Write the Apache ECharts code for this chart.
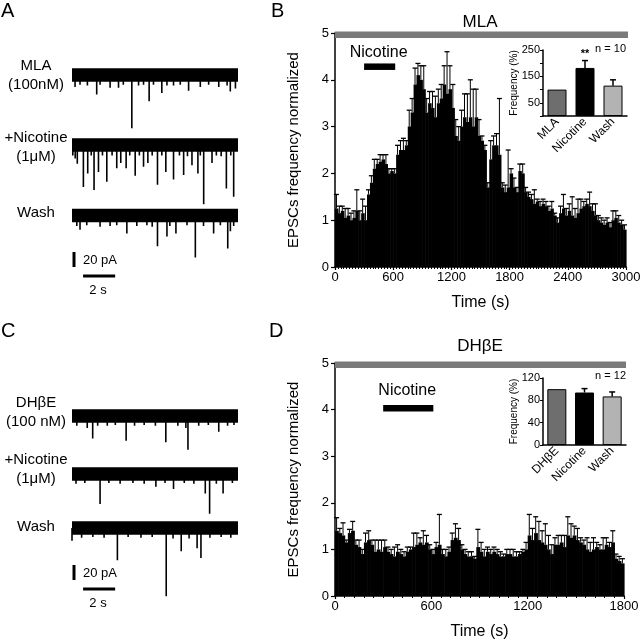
<!DOCTYPE html>
<html><head><meta charset="utf-8">
<script src="https://cdn.jsdelivr.net/npm/echarts@6/dist/echarts.min.js"></script>
<style>html,body{margin:0;padding:0;background:#fff}#c{width:640px;height:640px}</style>
</head><body><div id="c"></div>
<script>
const FAM = '"Liberation Sans", Arial, sans-serif';

// ---------- Panel B (MLA) : normalized EPSC frequency, 30 s bins ----------
const binWidthB = 30;
const freqB = [1.25,1.15,1.2,1.05,1.1,1.0,1.05,1.2,1.0,1.15,
 1.0,1.55,1.8,2.1,2.2,2.25,2.3,2.2,2.0,2.05,
 2.0,2.4,2.5,2.5,2.6,3.0,3.3,3.9,4.1,4.0,
 3.8,3.3,3.5,3.4,3.2,3.5,3.6,3.9,3.7,3.8,
 3.4,2.8,2.7,3.0,3.2,3.1,3.2,3.0,3.2,2.8,
 2.7,2.5,1.7,2.3,2.6,2.6,2.4,1.7,1.6,1.7,
 2.0,1.7,1.6,2.05,2.0,1.6,1.5,1.45,1.35,1.4,
 1.3,1.35,1.3,1.2,1.25,1.1,0.95,1.15,1.25,1.1,
 1.2,1.1,1.05,1.15,1.25,1.3,1.35,1.3,1.2,1.1,
 1.0,0.95,0.9,0.95,0.85,1.0,1.05,0.95,0.9,0.8];
const errB = [0.3,0.15,0.1,0.2,0.15,0.15,0.15,0.45,0.2,0.3,
 0.3,0.1,0.15,0.2,0.1,0.15,0.1,0.2,0.1,0.05,
 0.1,0.2,0.2,0.25,0.1,0.35,0.3,0.35,0.25,0.3,
 0.5,0.3,0.25,0.35,0.45,0.3,0.3,0.4,0.9,0.5,
 0.5,0.35,0.3,0.35,0.5,0.6,0.8,0.8,0.6,0.35,
 0.1,0.1,0.1,0.4,0.2,0.25,1.2,0.1,0.15,0.8,
 0.1,0.2,0.1,0.15,0.2,0.1,0.1,0.1,0.3,0.05,
 0.1,0.1,0.1,0.1,0.15,0.05,0.1,0.15,0.3,0.15,
 0.15,0.4,0.2,0.3,0.2,0.1,0.1,0.3,0.15,0.25,
 0.1,0.1,0.1,0.1,0.1,0.2,0.15,0.15,0.1,0.1];
const timeRangeB = [0, 3000];
const mlaPeriod = [0, 3000];
const nicotinePeriodB = [300, 600];

// ---------- Panel D (DHbE) : 20 s bins ----------
const binWidthD = 20;
const freqD = [1.4,1.35,1.3,1.15,1.35,1.4,1.1,1.05,0.9,1.15,
 1.2,1.1,0.95,1.0,0.95,1.05,0.95,0.9,0.85,0.95,
 0.9,0.85,0.95,1.0,1.05,1.1,1.15,1.1,1.15,1.0,
 0.9,1.05,1.1,0.9,0.85,0.95,1.2,1.25,1.2,1.0,
 0.9,0.85,0.85,0.8,1.05,0.95,0.85,0.95,0.9,0.95,
 0.9,0.85,0.85,0.9,0.9,0.85,0.85,0.9,0.95,1.0,
 1.3,1.2,1.35,1.2,1.15,1.1,1.0,0.9,1.1,1.1,
 1.15,1.05,1.3,1.25,1.3,1.2,1.15,1.1,1.0,0.95,
 1.0,1.05,1.0,1.0,1.1,1.05,1.15,0.8,0.75,0.7];
const errD = [0.28,0.1,0.27,0.05,0.08,0.2,0.1,0.15,0.1,0.2,
 0.2,0.1,0.25,0.2,0.25,0.15,0.1,0.1,0.2,0.15,
 0.1,0.1,0.1,0.05,0.3,0.25,0.1,0.3,0.15,0.1,
 0.1,0.1,0.65,0.1,0.15,0.1,0.15,0.3,0.25,0.1,
 0.1,0.1,0.1,0.05,0.38,0.2,0.15,0.1,0.1,0.1,
 0.1,0.1,0.05,0.1,0.1,0.15,0.1,0.05,0.05,0.15,
 0.45,0.25,0.35,0.4,0.25,0.45,0.3,0.2,0.15,0.2,
 0.15,0.25,0.4,0.3,0.2,0.25,0.1,0.1,0.25,0.2,
 0.25,0.1,0.1,0.25,0.15,0.1,0.25,0.1,0.1,0.1];
const timeRangeD = [0, 1800];
const dhbePeriod = [0, 1800];
const nicotinePeriodD = [300, 600];

// ---------- Insets (Frequency %) ----------
const insetCatsB = ['MLA', 'Nicotine', 'Wash'];
const insetValsB = [100, 182, 115];
const insetErrB = [0, 28, 22];
const insetSigB = ['', '**', ''];
const insetNB = 'n = 10';
const insetCatsD = ['DHβE', 'Nicotine', 'Wash'];
const insetValsD = [100, 94, 87];
const insetErrD = [0, 7, 8];
const insetSigD = ['', '', ''];
const insetND = 'n = 12';

// ---------- Traces: EPSC events [time (s), amplitude (pA)] ----------
const traceDuration = 10.35;
const traceMLA = [[0.19,16],[0.5,13],[0.96,14],[1.54,26],[1.75,13],[2.375,17],[2.9,17],[3.2,13],[3.73,71],[4.15,14],[4.46,13],[4.81,35],[5.08,13],[5.6,24],[5.92,14],[6.33,14],[6.75,13],[7.27,21],[8.0,16],[8.52,13],[9.15,16],[9.67,14],[9.87,22],[10.19,18]];
const traceMLANic = [[0.05,14],[0.2,18],[0.33,25],[0.71,56],[0.98,38],[1.2,14],[1.375,60],[1.65,36],[1.9,14],[2.17,49],[2.5,14],[2.79,31],[3.04,24],[3.375,31],[3.6,14],[3.94,41],[4.2,14],[4.46,29],[4.73,24],[5.0,14],[5.33,53],[5.6,14],[5.85,36],[6.33,46],[6.7,14],[6.96,40],[7.2,15],[7.48,27],[7.85,38],[8.0,14],[8.21,79],[8.73,24],[9.0,14],[9.3,15],[9.625,58],[9.9,14],[10.08,69]];
const traceMLAWash = [[0.3,14],[0.5,19],[0.92,13],[1.75,15],[2.375,14],[2.79,13],[3.42,24],[4.04,14],[4.67,13],[5.0,15],[5.33,41],[5.92,28],[6.1,14],[6.48,24],[7.17,13],[7.69,56],[8.2,14],[8.83,24],[9.25,13],[9.71,44],[9.875,21],[10.08,14]];
const traceDH = [[0.3,13],[0.95,16],[1.29,30],[1.6,13],[2.2,13],[2.7,12],[3.375,33],[3.9,13],[4.5,12],[5.2,13],[5.85,35],[6.6,13],[7.1,16],[7.23,45],[7.9,13],[8.5,12],[9.15,21],[9.7,13],[10.1,12]];
const traceDHNic = [[0.25,13],[0.8,12],[1.75,40],[2.3,12],[3.0,13],[3.8,12],[4.5,13],[5.23,17],[5.8,12],[6.33,20],[7.0,12],[7.6,13],[8.31,26],[8.58,53],[9.0,13],[9.42,26],[10.0,12]];
const traceDHWash = [[0.0,17],[0.6,13],[1.3,12],[2.0,13],[2.83,43],[3.5,12],[4.3,13],[5.0,12],[5.875,91],[6.3,14],[6.81,31],[7.3,14],[7.8,27],[8.04,40],[8.6,13],[9.3,12],[9.9,13]];
const scaleBarPA = 20;
const scaleBarSec = 2;

// ================= layout / rendering =================
const chart = echarts.init(document.getElementById('c'), null, {renderer: 'canvas'});

function histRender(bin) {
  return function (params, api) {
    const t = api.value(0), v = api.value(1);
    const a = api.coord([t, 0]), b = api.coord([t + bin, v]);
    return {type: 'rect', shape: {x: a[0], y: b[1], width: b[0] - a[0] + 0.6, height: a[1] - b[1]}, style: {fill: '#000'}};
  };
}
function errRender(bin) {
  return function (params, api) {
    const t = api.value(0) + bin / 2, v = api.value(1), e = api.value(2);
    const a = api.coord([t, v]), b = api.coord([t, v + e]);
    return {type: 'group', children: [
      {type: 'line', shape: {x1: a[0], y1: a[1], x2: b[0], y2: b[1]}, style: {stroke: '#000', lineWidth: 1}},
      {type: 'line', shape: {x1: b[0] - 2.5, y1: b[1], x2: b[0] + 2.5, y2: b[1]}, style: {stroke: '#000', lineWidth: 1.3}}
    ]};
  };
}
function drugRender(level, thick, color, label, labelGap) {
  return function (params, api) {
    const a = api.coord([api.value(0), level]), b = api.coord([api.value(1), level]);
    const ch = [{type: 'rect', shape: {x: a[0], y: a[1] - thick / 2, width: b[0] - a[0] + 2, height: thick}, style: {fill: color}}];
    if (label) ch.push({type: 'text', x: (a[0] + b[0]) / 2, y: a[1] - thick / 2 - labelGap,
      style: {text: label, font: '16px ' + FAM, fill: '#000', align: 'center', verticalAlign: 'bottom'}});
    return {type: 'group', children: ch};
  };
}
const bandHalfPA = 9;
function bandRender(params, api) {
  const a = api.coord([api.value(0), bandHalfPA]), b = api.coord([api.value(1), -bandHalfPA]);
  return {type: 'rect', shape: {x: a[0], y: a[1], width: b[0] - a[0], height: b[1] - a[1]}, style: {fill: '#000'}};
}
function spikeRender(params, api) {
  const t = api.value(0), amp = api.value(1);
  const a = api.coord([t, 0]), b = api.coord([t, -amp]);
  return {type: 'line', shape: {x1: a[0], y1: a[1], x2: b[0], y2: b[1]}, style: {stroke: '#000', lineWidth: 1.6}};
}
function scaleRender(params, api) {
  const vx = 0.125, hx = 0.69, gap = 12;
  const v0 = api.coord([vx, gap]), v1 = api.coord([vx, gap + api.value(0)]);
  const h0 = api.coord([hx, 0]), h1 = api.coord([hx + api.value(1), 0]);
  return {type: 'group', children: [
    {type: 'line', shape: {x1: v0[0], y1: v0[1], x2: v1[0], y2: v1[1]}, style: {stroke: '#000', lineWidth: 3}},
    {type: 'line', shape: {x1: h0[0], y1: h0[1], x2: h1[0], y2: h1[1]}, style: {stroke: '#000', lineWidth: 3}}
  ]};
}
function insetErrRender(vals, errs, sigs) {
  return function (params, api) {
    const i = params.dataIndex;
    const v = vals[i], e = errs[i];
    const a = api.coord([i, v]), b = api.coord([i, v + e]);
    const ch = [];
    if (e > 0) {
      ch.push({type: 'line', shape: {x1: a[0], y1: a[1], x2: b[0], y2: b[1]}, style: {stroke: '#000', lineWidth: 1.5}});
      ch.push({type: 'line', shape: {x1: b[0] - 3, y1: b[1], x2: b[0] + 3, y2: b[1]}, style: {stroke: '#000', lineWidth: 1.5}});
    }
    if (sigs[i]) ch.push({type: 'text', x: b[0], y: b[1] - 1, style: {text: sigs[i], font: 'bold 11px ' + FAM, fill: '#000', align: 'center', verticalAlign: 'bottom'}});
    return {type: 'group', children: ch};
  };
}

const grids = [], xAxes = [], yAxes = [], series = [];
function addGrid(g) { grids.push(Object.assign({outerBoundsMode: 'none', containLabel: false}, g)); return grids.length - 1; }

const lbl = (s, extra) => Object.assign({color: '#000', fontSize: s, fontFamily: FAM}, extra || {});

// main histograms
function mainPanel(grid, range, interval, minorSplit, freq, err, bin, drug, drugColor, nic, nicLevel, nicGap) {
  const gi = addGrid(grid);
  xAxes.push({gridIndex: gi, type: 'value', min: range[0], max: range[1], interval: interval,
    axisLine: {show: true, onZero: false, lineStyle: {color: '#000', width: 1.5}},
    axisTick: {show: true, length: 3, lineStyle: {color: '#000', width: 1.2}},
    minorTick: {show: true, splitNumber: minorSplit, length: 2, lineStyle: {color: '#000', width: 1}},
    splitLine: {show: false}, axisLabel: lbl(13, {margin: 4, formatter: v => String(v)}),
    name: 'Time (s)', nameLocation: 'middle', nameGap: 28, nameMoveOverlap: false, nameTextStyle: lbl(16)});
  yAxes.push({gridIndex: gi, type: 'value', min: 0, max: 5, interval: 1,
    axisLine: {show: true, lineStyle: {color: '#000', width: 1.5}},
    axisTick: {show: true, length: 4, lineStyle: {color: '#000', width: 1.2}},
    splitLine: {show: false}, axisLabel: lbl(13, {margin: 6}),
    name: 'EPSCs frequency normalized', nameLocation: 'middle', nameRotate: 90, nameGap: 34, nameMoveOverlap: false, nameTextStyle: lbl(15)});
  const ax = xAxes.length - 1;
  series.push({type: 'custom', xAxisIndex: ax, yAxisIndex: ax, renderItem: histRender(bin), silent: true,
    data: freq.map((v, i) => [range[0] + i * bin, v])});
  series.push({type: 'custom', xAxisIndex: ax, yAxisIndex: ax, renderItem: errRender(bin), silent: true,
    data: freq.map((v, i) => [range[0] + i * bin, v, err[i]])});
  series.push({type: 'custom', xAxisIndex: ax, yAxisIndex: ax, renderItem: drugRender(4.96, 6.5, drugColor, '', 0), silent: true, data: [drug]});
  series.push({type: 'custom', xAxisIndex: ax, yAxisIndex: ax, renderItem: drugRender(nicLevel, 6.5, '#000', 'Nicotine', nicGap), silent: true, data: [nic]});
}
mainPanel({left: 335, top: 33, width: 291, height: 234}, timeRangeB, 600, 20, freqB, errB, binWidthB, mlaPeriod, '#7a7a7a', nicotinePeriodB, 4.28, 3);
mainPanel({left: 335, top: 363, width: 289, height: 233}, timeRangeD, 600, 10, freqD, errD, binWidthD, dhbePeriod, '#7a7a7a', nicotinePeriodD, 4.03, 6);

// insets
const insetColors = ['#6e6e6e', '#000000', '#b3b3b3'];
function insetPanel(grid, cats, vals, errs, sigs, max, interval, labelFilter) {
  const gi = addGrid(grid);
  xAxes.push({gridIndex: gi, type: 'category', data: cats,
    axisLine: {show: true, lineStyle: {color: '#000', width: 1.5}}, axisTick: {show: false},
    axisLabel: lbl(12, {rotate: 45, margin: 4, interval: 0})});
  yAxes.push({gridIndex: gi, type: 'value', min: 0, max: max, interval: interval,
    axisLine: {show: true, lineStyle: {color: '#000', width: 1.5}},
    axisTick: {show: true, length: 3, lineStyle: {color: '#000'}}, splitLine: {show: false},
    axisLabel: lbl(11, {margin: 3, formatter: labelFilter}),
    name: 'Frequency (%)', nameLocation: 'middle', nameRotate: 90, nameGap: 24, nameMoveOverlap: false, nameTextStyle: lbl(10)});
  const ax = xAxes.length - 1;
  series.push({type: 'bar', xAxisIndex: ax, yAxisIndex: ax, barWidth: 19, silent: true,
    data: vals.map((v, i) => ({value: v, itemStyle: {color: insetColors[i], borderColor: '#000', borderWidth: 1}}))});
  series.push({type: 'custom', xAxisIndex: ax, yAxisIndex: ax, renderItem: insetErrRender(vals, errs, sigs), silent: true, z: 5,
    data: vals.map((v, i) => [i, v])});
}
insetPanel({left: 543, top: 50, width: 84, height: 66}, insetCatsB, insetValsB, insetErrB, insetSigB, 250, 50,
  v => (v % 100 === 50 ? String(v) : ''));
insetPanel({left: 543, top: 378, width: 83, height: 67}, insetCatsD, insetValsD, insetErrD, insetSigD, 120, 40,
  v => String(v));

// traces
const pxPerPA = 0.75;
const traceBaselines = [75, 145, 215.5, 416, 474, 528];
const traces = [traceMLA, traceMLANic, traceMLAWash, traceDH, traceDHNic, traceDHWash];
traces.forEach((tr, k) => {
  const gi = addGrid({left: 72, width: 166, top: traceBaselines[k] - 20 * pxPerPA, height: 120 * pxPerPA});
  xAxes.push({gridIndex: gi, type: 'value', min: 0, max: traceDuration, show: false});
  yAxes.push({gridIndex: gi, type: 'value', min: -100, max: 20, show: false});
  const ax = xAxes.length - 1;
  series.push({type: 'custom', xAxisIndex: ax, yAxisIndex: ax, renderItem: bandRender, silent: true, data: [[0, traceDuration]]});
  series.push({type: 'custom', xAxisIndex: ax, yAxisIndex: ax, renderItem: spikeRender, silent: true, data: tr});
});
// scale bars
[276, 589].forEach(yh => {
  const gi = addGrid({left: 72, width: 166, top: yh - 32 * pxPerPA, height: 32 * pxPerPA});
  xAxes.push({gridIndex: gi, type: 'value', min: 0, max: traceDuration, show: false});
  yAxes.push({gridIndex: gi, type: 'value', min: 0, max: 32, show: false});
  const ax = xAxes.length - 1;
  series.push({type: 'custom', xAxisIndex: ax, yAxisIndex: ax, renderItem: scaleRender, silent: true, data: [[scaleBarPA, scaleBarSec]]});
});

function txt(x, y, s, size, align, weight) {
  return {type: 'text', x: x, y: y, silent: true,
    style: {text: s, font: (weight || 'normal') + ' ' + size + 'px ' + FAM, fill: '#000',
      align: align || 'center', verticalAlign: 'middle', textAlign: align || 'center', textVerticalAlign: 'middle'}};
}
const graphic = [
  txt(1, 11, 'A', 20, 'left'), txt(271, 11, 'B', 20, 'left'),
  txt(1, 331, 'C', 20, 'left'), txt(269, 331, 'D', 20, 'left'),
  txt(480, 22, 'MLA', 17), txt(480, 346, 'DHβE', 17),
  txt(36, 66, 'MLA', 15), txt(36, 85, '(100nM)', 15),
  txt(36, 138, '+Nicotine', 15), txt(36, 157, '(1μM)', 15),
  txt(36, 213, 'Wash', 15),
  txt(36, 403, 'DHβE', 15), txt(36, 422, '(100 nM)', 15),
  txt(36, 460, '+Nicotine', 15), txt(36, 479, '(1μM)', 15),
  txt(36, 527, 'Wash', 15),
  txt(83, 260, '20 pA', 13, 'left'), txt(98, 290, '2 s', 13),
  txt(83, 573, '20 pA', 13, 'left'), txt(98, 603, '2 s', 13),
  txt(626, 49, insetNB, 11, 'right'), txt(626, 376, insetND, 11, 'right')
];

chart.setOption({
  animation: false,
  backgroundColor: '#fff',
  grid: grids, xAxis: xAxes, yAxis: yAxes, series: series,
  graphic: graphic
});
</script>
</body></html>
